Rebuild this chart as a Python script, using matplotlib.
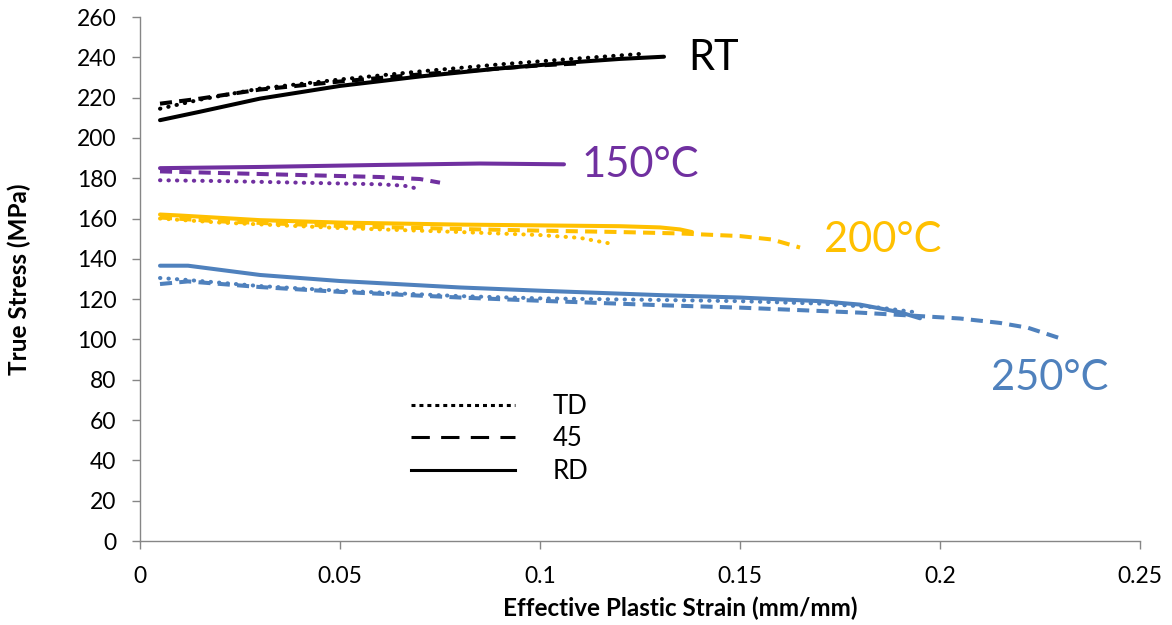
import matplotlib
matplotlib.use("Agg")
import matplotlib.pyplot as plt
from matplotlib.lines import Line2D

plt.rcParams['font.family'] = ['Lato', 'DejaVu Sans']

# ---- data ----
rt_rd_x = [0.005, 0.015, 0.03, 0.05, 0.07, 0.09, 0.11, 0.12, 0.131]
rt_rd_y = [208.8, 213.0, 219.5, 225.8, 230.5, 234.5, 237.8, 239.2, 240.3]
rt_45_x = [0.005, 0.015, 0.03, 0.05, 0.07, 0.09, 0.1, 0.11]
rt_45_y = [217.0, 219.5, 224.0, 228.0, 231.5, 234.5, 236.0, 237.0]
rt_td_x = [0.005, 0.015, 0.03, 0.05, 0.07, 0.09, 0.11, 0.126]
rt_td_y = [214.5, 219.0, 224.5, 229.0, 233.0, 236.5, 239.5, 241.8]

c150_rd_x = [0.005, 0.03, 0.06, 0.085, 0.106]
c150_rd_y = [185.0, 185.6, 186.6, 187.3, 186.9]
c150_45_x = [0.005, 0.02, 0.04, 0.06, 0.07, 0.075]
c150_45_y = [183.4, 182.6, 181.6, 180.6, 179.6, 177.8]
c150_td_x = [0.005, 0.02, 0.04, 0.06, 0.066, 0.069]
c150_td_y = [179.0, 178.6, 177.8, 177.0, 176.3, 175.0]

c200_rd_x = [0.005, 0.01, 0.03, 0.05, 0.08, 0.1, 0.12, 0.13, 0.135, 0.138]
c200_rd_y = [162.0, 161.5, 159.2, 158.0, 157.0, 156.6, 156.2, 155.6, 154.6, 153.3]
c200_45_x = [0.005, 0.02, 0.05, 0.08, 0.1, 0.12, 0.135, 0.15, 0.158, 0.165]
c200_45_y = [160.5, 158.6, 156.3, 154.8, 154.0, 153.3, 152.6, 151.3, 149.6, 145.6]
c200_td_x = [0.005, 0.02, 0.05, 0.08, 0.1, 0.11, 0.117]
c200_td_y = [160.0, 158.0, 155.3, 153.3, 151.8, 150.4, 147.8]

c250_rd_x = [0.005, 0.012, 0.03, 0.05, 0.08, 0.1, 0.13, 0.15, 0.17, 0.18, 0.19, 0.195]
c250_rd_y = [136.6, 136.6, 132.0, 129.0, 125.8, 124.2, 122.0, 120.8, 119.0, 117.3, 113.5, 110.5]
c250_45_x = [0.005, 0.012, 0.03, 0.05, 0.08, 0.1, 0.13, 0.15, 0.18, 0.195, 0.205, 0.215, 0.222, 0.23]
c250_45_y = [127.5, 128.8, 126.0, 123.6, 120.8, 119.2, 117.0, 115.8, 113.3, 111.6, 110.4, 108.2, 105.8, 100.6]
c250_td_x = [0.005, 0.012, 0.03, 0.05, 0.08, 0.1, 0.13, 0.15, 0.17, 0.185, 0.195]
c250_td_y = [130.5, 129.5, 126.5, 124.2, 121.5, 120.4, 119.6, 119.0, 117.8, 115.8, 113.2]

labels_text = ["RT", "150°C", "200°C", "250°C"]
labels_pos = [(0.137, 239.5), (0.1105, 186.5), (0.171, 149.5), (0.2128, 81.0)]
legend_names = ["TD", "45", "RD"]

xticks = [0, 0.05, 0.1, 0.15, 0.2, 0.25]
xtick_labels = ["0", "0.05", "0.1", "0.15", "0.2", "0.25"]
yticks = list(range(0, 261, 20))

# ---- styling ----
BLACK = "#000000"
PURPLE = "#7030A0"
YELLOW = "#FFC000"
BLUE = "#4F81BD"
LW = 2.9
DOT = (0, (0.1, 2.0))
DASH = (0, (3.0, 1.8))

fig = plt.figure(figsize=(11.72, 6.25), dpi=100)
ax = fig.add_axes([140/1172, 84/625, 1000/1172, 524/625])

def draw(x, y, color, style):
    if style == "dot":
        ax.plot(x, y, color=color, lw=LW, linestyle=DOT, dash_capstyle="round")
    elif style == "dash":
        ax.plot(x, y, color=color, lw=LW, linestyle=DASH, dash_capstyle="butt")
    else:
        ax.plot(x, y, color=color, lw=LW, solid_capstyle="round")

groups = [
    (BLACK, rt_td_x, rt_td_y, rt_45_x, rt_45_y, rt_rd_x, rt_rd_y),
    (PURPLE, c150_td_x, c150_td_y, c150_45_x, c150_45_y, c150_rd_x, c150_rd_y),
    (YELLOW, c200_td_x, c200_td_y, c200_45_x, c200_45_y, c200_rd_x, c200_rd_y),
    (BLUE, c250_td_x, c250_td_y, c250_45_x, c250_45_y, c250_rd_x, c250_rd_y),
]
for col, tdx, tdy, fx, fy, rdx, rdy in groups:
    draw(rdx, rdy, col, "solid")
    draw(fx, fy, col, "dash")
    draw(tdx, tdy, col, "dot")

for txt, (px, py), col in zip(labels_text, labels_pos, [BLACK, PURPLE, YELLOW, BLUE]):
    ax.text(px, py, txt, color=col, fontsize=30, ha="left", va="center")

handles = [
    Line2D([], [], color="black", lw=2.2, linestyle=(0, (1.3, 1.3)), dash_capstyle="butt"),
    Line2D([], [], color="black", lw=2.2, linestyle=(0, (6, 3.7))),
    Line2D([], [], color="black", lw=2.2),
]
ax.legend(handles, legend_names, frameon=False, fontsize=18.5,
          handlelength=4.05, handletextpad=1.45, labelspacing=0.3,
          borderpad=0, borderaxespad=0,
          loc="center left", bbox_to_anchor=(0.271, 0.195))

ax.set_xlim(0, 0.25)
ax.set_ylim(0, 260)
ax.set_xticks(xticks)
ax.set_xticklabels(xtick_labels)
ax.set_yticks(yticks)
for s in ["top", "right"]:
    ax.spines[s].set_visible(False)
for s in ["left", "bottom"]:
    ax.spines[s].set_color("#868686")
    ax.spines[s].set_linewidth(1.0)
ax.tick_params(axis="both", colors="#868686", labelcolor="black", labelsize=16.5,
               direction="out", length=6, width=1.0)
ax.tick_params(axis="x", pad=12)
ax.tick_params(axis="y", pad=11)
ax.set_xlabel("Effective Plastic Strain (mm/mm)", fontsize=17.5, fontweight="bold", va="center")
ax.set_ylabel("True Stress (MPa)", fontsize=17.5, fontweight="bold", va="center")
ax.xaxis.set_label_coords(0.54, -0.128)
ax.yaxis.set_label_coords(-0.121, 0.5)

fig.savefig("out.png", dpi=100)
